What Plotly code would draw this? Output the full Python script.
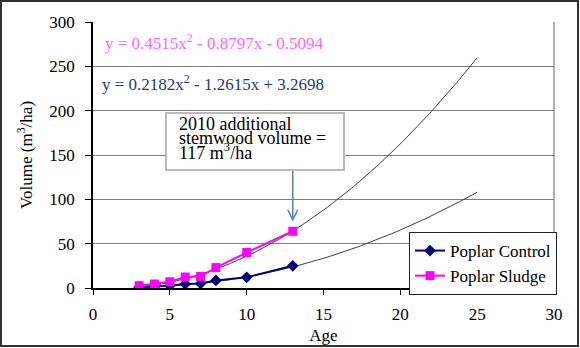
import plotly.graph_objects as go
import numpy as np

# ---- data ----
age = [3, 4, 5, 6, 7, 8, 10, 13]
control_vol = [0.8, 1.5, 2.5, 4.5, 5.0, 8.5, 12.0, 25.0]
sludge_vol = [2.6, 4.5, 7.0, 12.4, 13.0, 23.0, 40.0, 64.0]
control_coef = [0.2182, -1.2615, 3.2698]   # trendline: a x^2 + b x + c
sludge_coef = [0.4515, -0.8797, -0.5094]
trend_range = [3, 25]
x_ticks = [0, 5, 10, 15, 20, 25, 30]
y_ticks = [0, 50, 100, 150, 200, 250, 300]
eq_sludge = "y = 0.4515x<sup>2</sup> - 0.8797x - 0.5094"
eq_control = "y = 0.2182x<sup>2</sup> - 1.2615x + 3.2698"
note_lines = ["2010 additional", "stemwood volume =", "117 m<sup>3</sup>/ha"]
arrow_target = (13, 77)

FONT = "Liberation Serif"
W, H = 580, 348
ML, MR, MT, MB = 93, 26, 22, 60
PW, PH = W - ML - MR, H - MT - MB

xt = np.linspace(trend_range[0], trend_range[1], 200)
fig = go.Figure()
for coef in (control_coef, sludge_coef):
    fig.add_trace(go.Scatter(x=xt, y=np.polyval(coef, xt), mode="lines",
                             line=dict(color="#404040", width=1), showlegend=False,
                             hoverinfo="skip"))
fig.add_trace(go.Scatter(x=age, y=control_vol, mode="lines+markers", name="Poplar Control",
                         line=dict(color="#000080", width=2),
                         marker=dict(symbol="diamond", size=9, color="#000080"),
                         legendgroup="a"))
fig.add_trace(go.Scatter(x=age, y=sludge_vol, mode="lines+markers", name="Poplar Sludge",
                         line=dict(color="#FF00FF", width=2),
                         marker=dict(symbol="square", size=9, color="#FF00FF"),
                         legendgroup="b"))

def px2y(py):
    return (H - MB - py) / PH * 300

shapes = []
# outer border
shapes.append(dict(type="rect", xref="paper", yref="paper",
                   x0=(1 - ML) / PW, x1=(W - 2 - ML) / PW,
                   y0=-(H - 2 - MT - PH) / PH, y1=(PH + MT - 1) / PH,
                   line=dict(color="#333333", width=2)))
# note box
shapes.append(dict(type="rect", xref="paper", yref="paper",
                   x0=(166 - ML) / PW, x1=(344 - ML) / PW,
                   y0=(H - MB - 170) / PH, y1=(H - MB - 113) / PH,
                   fillcolor="white", line=dict(color="#BBBBBB", width=2), layer="above"))
# arrow
tx, ty = arrow_target
shapes.append(dict(type="line", xref="x", yref="y", x0=tx, x1=tx,
                   y0=px2y(171), y1=ty, line=dict(color="#4F81BD", width=1.5)))
dx = 5 / PW * 30
dy = 10 / PH * 300
shapes.append(dict(type="path", xref="x", yref="y",
                   path=f"M {tx-dx} {ty+dy} L {tx} {ty} L {tx+dx} {ty+dy}",
                   line=dict(color="#4F81BD", width=1.5)))

annotations = [
    dict(xref="paper", yref="paper", x=(103 - ML) / PW, y=(H - MB - 42) / PH,
         xanchor="left", yanchor="middle", text=eq_sludge, showarrow=False,
         font=dict(family=FONT, size=17, color="#FF66FF")),
    dict(xref="paper", yref="paper", x=(100 - ML) / PW, y=(H - MB - 83) / PH,
         xanchor="left", yanchor="middle", text=eq_control, showarrow=False,
         font=dict(family=FONT, size=17, color="#1F3A78")),
]
for i, line in enumerate(note_lines):
    annotations.append(dict(xref="paper", yref="paper", x=(177 - ML) / PW,
                            y=(H - MB - (124 + 13.5 * i)) / PH,
                            xanchor="left", yanchor="middle", text=line, showarrow=False,
                            font=dict(family=FONT, size=18, color="black")))

fig.update_layout(
    width=W, height=H, margin=dict(l=ML, r=MR, t=MT, b=MB, autoexpand=False),
    paper_bgcolor="white", plot_bgcolor="white",
    font=dict(family=FONT, size=17, color="black"),
    shapes=shapes, annotations=annotations,
    showlegend=True,
    legend=dict(x=(409 - ML) / PW, y=(H - MB - 232) / PH, xanchor="left", yanchor="top",
                bgcolor="white", bordercolor="#222222", borderwidth=1,
                font=dict(family=FONT, size=17), traceorder="grouped", tracegroupgap=0,
                itemwidth=30),
    xaxis=dict(range=[0, 30], tickvals=x_ticks, ticks="outside", ticklen=5,
               tickcolor="black", showline=True, linecolor="black", linewidth=1.5,
               showgrid=False, zeroline=False, mirror=False, ticklabelstandoff=5,
               automargin=False,
               title=dict(text="Age", font=dict(family=FONT, size=17), standoff=6)),
    yaxis=dict(range=[0, 300], tickvals=y_ticks, ticks="outside", ticklen=6,
               tickcolor="black", showline=True, linecolor="black", linewidth=1.5,
               showgrid=True, gridcolor="#7F7F7F", gridwidth=1.2, zeroline=False,
               ticklabelstandoff=7, automargin=False,
               title=dict(text="Volume (m<sup>3</sup>/ha)", font=dict(family=FONT, size=17),
                          standoff=12)),
)
# right plot border
fig.add_shape(type="line", xref="paper", yref="paper", x0=1, x1=1, y0=0, y1=1,
              line=dict(color="#7F7F7F", width=1.2))

fig.write_html("out.html")
